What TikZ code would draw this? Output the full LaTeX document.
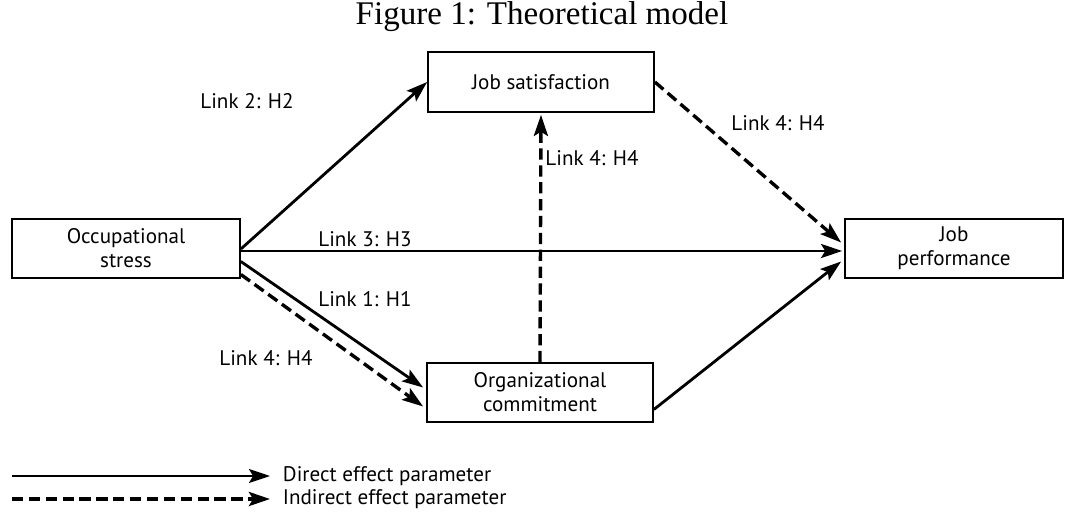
\documentclass[tikz,border=0pt]{standalone}
\usepackage{fontspec}
\setmainfont{Liberation Serif}
\newfontfamily\boxfont{PT Sans}
\usetikzlibrary{positioning, arrows.meta, calc}

\tikzset{
    varbox/.style={draw, line width=1.2pt, align=center, font=\boxfont\fontsize{15}{17}\selectfont, inner sep=0pt},
    linklabel/.style={font=\boxfont\fontsize{15}{17}\selectfont},
    direct/.style={line width=2pt, -{Stealth[length=15pt,width=10pt,inset=3pt]}},
    indirect/.style={direct, line width=2.4pt, dash pattern=on 8pt off 4pt}
}

\begin{document}
\begin{tikzpicture}[x=0.025cm, y=-0.025cm]
    \useasboundingbox (0,0) rectangle (1065,513);
    \node[font=\fontsize{23.5}{26}\selectfont, anchor=base] (title) at (542,24) {Figure 1: Theoretical model};
    \node[varbox, minimum width=5.7cm, minimum height=1.475cm] (stress) at (126,248.5) {Occupational\\stress};
    \node[varbox, minimum width=5.65cm, minimum height=1.5cm] (sat) at (541,82) {Job satisfaction};
    \node[varbox, minimum width=5.45cm, minimum height=1.475cm] (perf) at (954,248.5) {Job\\performance};
    \node[varbox, minimum width=5.65cm, minimum height=1.475cm] (commit) at (540,392.5) {Organizational\\commitment};
    \draw[direct] ($(stress.east)+(0,0.5)$) -- (sat.west);
    \draw[direct] ($(stress.east)+(0,2.5)$) -- ($(perf.west)+(-2,2.5)$);
    \draw[direct] ($(stress.east)+(0,13)$) -- ($(commit.west)+(-3,-5)$);
    \draw[indirect] ($(stress.east)+(0,26)$) -- ($(commit.west)+(-3,14)$);
    \draw[indirect] (commit.north) -- ($(sat.south)+(0,2)$);
    \draw[indirect] (sat.east) -- ($(perf.west)+(-3,-6)$);
    \draw[direct] ($(commit.east)+(0,17)$) -- ($(perf.west)+(-3,13)$);
    \node[linklabel] (l2) at (247,101) {Link 2: H2};
    \node[linklabel] (l4a) at (778,123) {Link 4: H4};
    \node[linklabel] (l4b) at (592,158) {Link 4: H4};
    \node[linklabel] (l3) at (365,239) {Link 3: H3};
    \node[linklabel] (l1) at (365,299) {Link 1: H1};
    \node[linklabel] (l4c) at (266,358) {Link 4: H4};
    \coordinate (d1) at (12,476);
    \coordinate (d2) at (12,499);
    \node[linklabel, anchor=west] (dtext) at (278,476) {Direct effect parameter};
    \node[linklabel, anchor=west] (itext) at (278,499) {Indirect effect parameter};
    \draw[direct, line width=1.4pt] (d1) -- ($(dtext.west)+(-8,0)$);
    \draw[indirect] (d2) -- ($(itext.west)+(-8,0)$);
\end{tikzpicture}
\end{document}
